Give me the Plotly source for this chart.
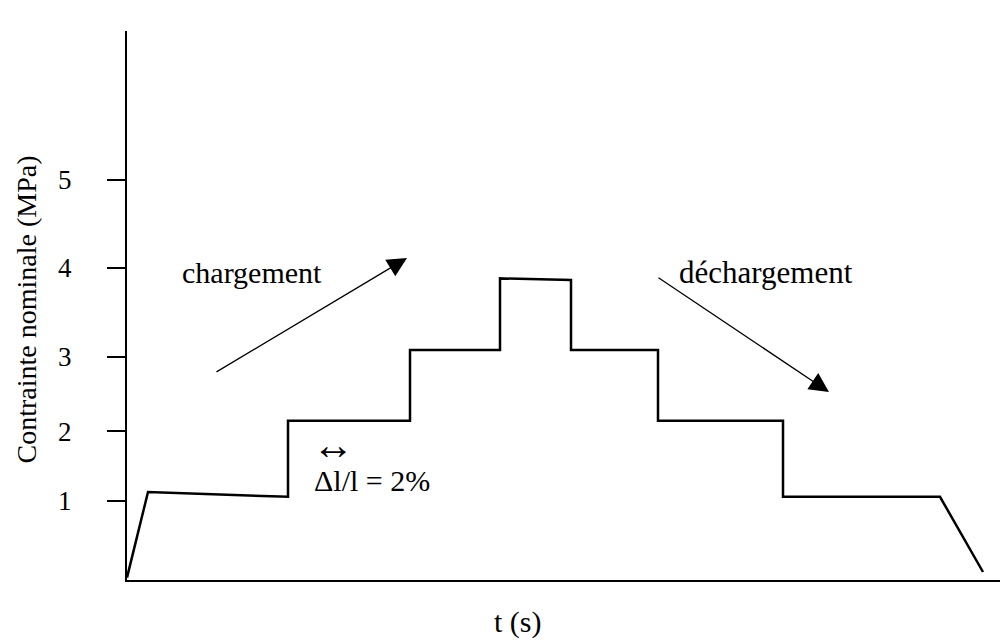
import plotly.graph_objects as go

# step loading profile (schematic): time in arbitrary units, stress in drawn units
t_pts = [0, 2.1, 16.1, 16.1, 28.3, 28.3, 37.3, 37.3, 44.4, 44.4, 53.1, 53.1, 65.6, 65.6, 81.3, 85.6]
s_pts = [0.03, 1.10, 1.04, 1.99, 1.99, 2.875, 2.875, 3.77, 3.75, 2.875, 2.875, 1.99, 1.99, 1.04, 1.04, 0.10]

# y ticks as drawn on the original (non uniform spacing)
tick_pos = [0.99, 1.86, 2.79, 3.90, 5.00]
tick_text = ['1', '2', '3', '4', '5']

FONT = 'Liberation Serif'

fig = go.Figure()
fig.add_trace(go.Scatter(x=t_pts, y=s_pts, mode='lines',
    line=dict(color='black', width=2.5), showlegend=False, hoverinfo='skip'))

# arrows: chargement / déchargement
fig.add_annotation(x=28.0, y=4.025, ax=8.8, ay=2.59, xref='x', yref='y', axref='x', ayref='y',
    text='', showarrow=True, arrowhead=2, arrowsize=3, arrowwidth=1.3, arrowcolor='black')
fig.add_annotation(x=70.2, y=2.35, ax=53.0, ay=3.79, xref='x', yref='y', axref='x', ayref='y',
    text='', showarrow=True, arrowhead=2, arrowsize=3, arrowwidth=1.3, arrowcolor='black')

fig.add_annotation(x=12.5, y=3.84, xref='x', yref='y', text='chargement', showarrow=False,
    font=dict(family=FONT, size=30, color='black'))
fig.add_annotation(x=63.9, y=3.85, xref='x', yref='y', text='déchargement', showarrow=False,
    font=dict(family=FONT, size=31, color='black'))
fig.add_annotation(x=18.3, y=1.69, xref='x', yref='y', xanchor='left', text='↔', showarrow=False,
    font=dict(family=FONT, size=42, color='black'))
fig.add_annotation(x=18.5, y=1.25, xref='x', yref='y', xanchor='left', text='Δl/l = 2%', showarrow=False,
    font=dict(family=FONT, size=30, color='black'))

# axis titles
fig.add_annotation(x=39.1, y=-0.0765, xref='x', yref='paper', yanchor='middle', text='t (s)',
    showarrow=False, font=dict(family=FONT, size=30, color='black'))
fig.add_annotation(x=-0.114, y=0.492, xref='paper', yref='paper', xanchor='center', yanchor='middle',
    text='Contrainte nominale (MPa)', textangle=-90, showarrow=False,
    font=dict(family=FONT, size=28, color='black'))

fig.update_xaxes(range=[0, 88.1], showgrid=False, zeroline=False, showticklabels=False,
    showline=True, linecolor='black', linewidth=2, ticks='')
fig.update_yaxes(range=[0, 6.8625], showgrid=False, zeroline=False,
    tickvals=tick_pos, ticktext=tick_text, ticks='outside', ticklen=18, tickwidth=2,
    tickcolor='black', ticklabelstandoff=30,
    tickfont=dict(family=FONT, size=27, color='black'),
    showline=True, linecolor='black', linewidth=2)

# page body adds ~8px offset, so the figure is 1000x635
fig.update_layout(width=1000, height=635, plot_bgcolor='white', paper_bgcolor='white',
    margin=dict(l=119, r=0, t=23, b=63))

fig.write_html('out.html')
